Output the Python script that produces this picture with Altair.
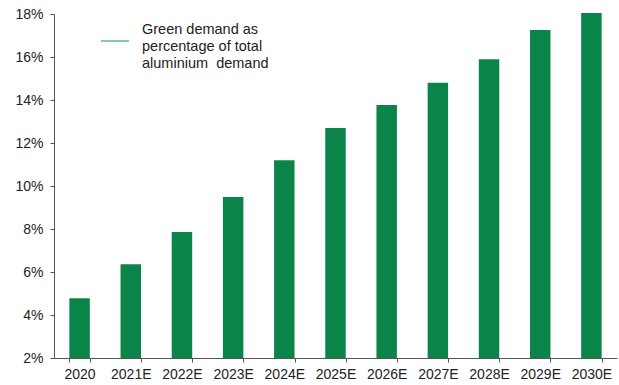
import altair as alt
import pandas as pd

years = ["2020", "2021E", "2022E", "2023E", "2024E", "2025E", "2026E", "2027E", "2028E", "2029E", "2030E"]
share = [0.0478, 0.0636, 0.0786, 0.0949, 0.112, 0.127, 0.1377, 0.148, 0.1589, 0.1726, 0.1805]
legend_lines = ["Green demand as", "percentage of total", "aluminium\u00a0\u00a0demand"]

df = pd.DataFrame({"year": years, "share": share})

FONT = "Liberation Sans"
AXIS_COLOR = "#555555"

bars = alt.Chart(df).mark_bar(color="#0b8449").encode(
    x=alt.X("year:N", sort=years, title=None,
            scale=alt.Scale(paddingInner=0.6, paddingOuter=0.3),
            axis=alt.Axis(labelAngle=0, bandPosition=0, tickBand="extent",
                          tickSize=4, labelPadding=5, labelFontSize=14,
                          labelFont=FONT, labelColor="#222222",
                          domainColor=AXIS_COLOR, tickColor=AXIS_COLOR,
                          grid=False)),
    y=alt.Y("share:Q", title=None,
            scale=alt.Scale(domain=[0.02, 0.18], zero=False, nice=False),
            axis=alt.Axis(format=".0%", values=[0.02, 0.04, 0.06, 0.08, 0.10, 0.12, 0.14, 0.16, 0.18],
                          tickSize=4, labelPadding=7, labelFontSize=14,
                          labelFont=FONT, labelColor="#222222",
                          domainColor=AXIS_COLOR, tickColor=AXIS_COLOR,
                          grid=False)),
    y2=alt.datum(0.02),
)

legend_rule = alt.Chart(pd.DataFrame({"k": [0]})).mark_rule(color="#5cb98c", strokeWidth=1.5).encode(
    x=alt.value(47), x2=alt.value(75), y=alt.value(27)
)

legend_text = alt.Chart(pd.DataFrame({"k": [0]})).mark_text(
    text=legend_lines, align="left", baseline="top", fontSize=14.5, font=FONT,
    lineHeight=16.8, color="#222222"
).encode(x=alt.value(88), y=alt.value(9))

chart = alt.layer(bars, legend_rule, legend_text).properties(
    width=563, height=344,
    padding={"left": 54, "top": 14, "right": 2, "bottom": 27},
    autosize=alt.AutoSizeParams(type="none"),
).configure_view(stroke=None)

chart.save("out.html", embed_options={"renderer": "svg", "actions": False})
